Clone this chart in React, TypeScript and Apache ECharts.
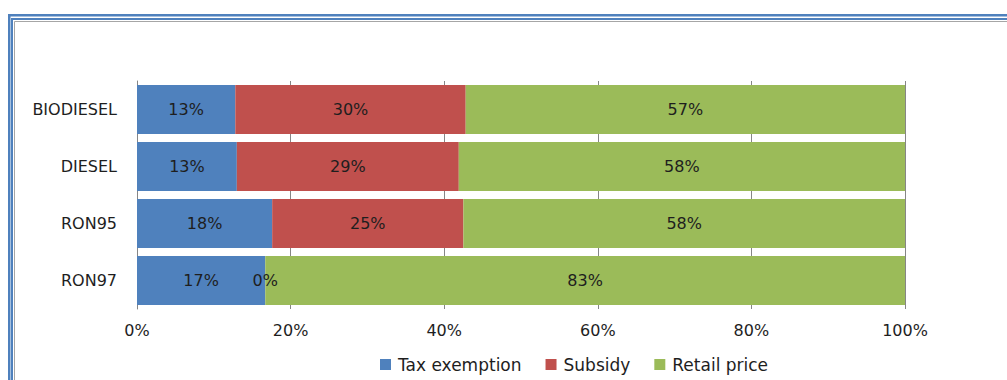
import React, { useEffect, useRef } from "react";
import * as echarts from "echarts";

const categories = ["BIODIESEL", "DIESEL", "RON95", "RON97"];
const taxExemption = [12.8, 13.0, 17.6, 16.7];
const subsidy = [30.0, 28.9, 24.9, 0];
const retailPrice = [57.2, 58.1, 57.5, 83.3];
const seriesNames = ["Tax exemption", "Subsidy", "Retail price"];
const colors = ["#4f81bd", "#c0504d", "#9bbb59"];
const xTicks = [0, 20, 40, 60, 80, 100];

const FONT = "DejaVu Sans";

export default function App() {
  const ref = useRef<HTMLDivElement>(null);
  useEffect(() => {
    if (!ref.current) return;
    const chart = echarts.init(ref.current, undefined, { renderer: "svg" });
    const dataSets = [taxExemption, subsidy, retailPrice];
    const label = {
      show: true,
      position: "inside",
      color: "#1e1e1e",
      fontFamily: FONT,
      fontSize: 16,
      formatter: (p: any) => Math.round(p.value) + "%",
    };
    chart.setOption({
      animation: false,
      backgroundColor: "#ffffff",
      textStyle: { fontFamily: FONT },
      grid: { left: 137, right: 102, top: 81, bottom: 71, containLabel: false },
      legend: {
        data: seriesNames,
        left: 375,
        top: 351,
        itemWidth: 11,
        itemHeight: 11,
        itemGap: 24,
        icon: "rect",
        textStyle: { fontFamily: FONT, fontSize: 17, color: "#1e1e1e", padding: [0, 0, 0, 2] },
      },
      xAxis: {
        type: "value",
        min: xTicks[0],
        max: xTicks[xTicks.length - 1],
        interval: 20,
        axisLine: { show: false },
        axisTick: { show: false },
        axisLabel: {
          formatter: (v: number) => v + "%",
          fontFamily: FONT,
          fontSize: 16,
          color: "#1e1e1e",
          margin: 13,
        },
        splitLine: { show: true, lineStyle: { color: "#868686", width: 1 } },
      },
      yAxis: {
        type: "category",
        data: categories,
        inverse: true,
        axisLine: { show: true, lineStyle: { color: "#868686", width: 1 } },
        axisTick: { show: false },
        axisLabel: { fontFamily: FONT, fontSize: 16, color: "#1e1e1e", margin: 20 },
      },
      series: seriesNames.map((name, i) => ({
        name,
        type: "bar",
        stack: "total",
        barCategoryGap: "14%",
        data: dataSets[i],
        itemStyle: { color: colors[i] },
        label,
      })),
      graphic: [
        {
          type: "rect",
          shape: { x: 9.25, y: 15.25, width: 1200, height: 600 },
          style: { fill: "none", stroke: "#4f81bd", lineWidth: 2.5 },
          silent: true,
        },
        {
          type: "rect",
          shape: { x: 12, y: 19, width: 1200, height: 600 },
          style: { fill: "none", stroke: "#4f81bd", lineWidth: 2 },
          silent: true,
        },
        {
          type: "rect",
          shape: { x: 14.5, y: 21.5, width: 1200, height: 600 },
          style: { fill: "none", stroke: "#a6a6a6", lineWidth: 1 },
          silent: true,
        },
      ],
    });
    return () => chart.dispose();
  }, []);
  return (
    <div
      ref={ref}
      style={{ position: "fixed", left: 0, top: 0, width: 1007, height: 380 }}
    />
  );
}
